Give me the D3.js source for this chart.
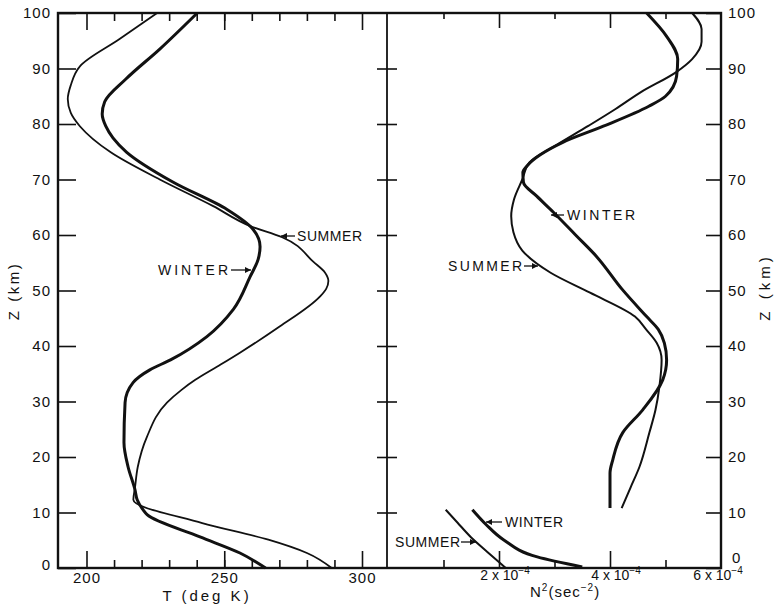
<!DOCTYPE html>
<html>
<head>
<meta charset="utf-8">
<script src="https://cdn.jsdelivr.net/npm/d3@7"></script>
<style>
  body { margin: 0; background: #fff; }
  text { font-family: "Liberation Sans", Arial, sans-serif; fill: #111; }
</style>
</head>
<body>
<svg id="chart" width="775" height="608"></svg>
<script>
// temperature profiles, [Z (km), T (deg K)]
let summerT = [[0,289],[2.7,280],[5.1,266],[8.1,242],[12.3,217],[14.5,217.6],[18.2,218.6],[23.6,221.9],[29.8,229.2],[32.1,234.5],[33.9,239.5],[36.3,247.5],[38.8,255.7],[43.5,270.1],[48.9,284.7],[50.3,287],[51.7,287.8],[53.2,286.6],[55.1,282.5],[59.6,271],[61.6,259.5],[65.2,246],[70,226.6],[74.9,208.8],[79.6,197.6],[82,194.3],[84.5,193.2],[87,194.3],[90.4,197.6],[95.3,212],[100,225.6]]
let winterT = [[0,265],[2.7,255.7],[5.6,241.2],[9.6,222],[10.5,220.5],[12.3,218.4],[14.1,217.6],[18.2,215.1],[22.6,213.6],[29.8,214],[33.4,216.9],[35.7,223],[37.5,230.5],[41.7,243.7],[46.6,253.3],[52.5,259.4],[55.6,262.3],[57.9,263],[61,260.5],[64.6,251],[69.5,231.5],[74.9,214.6],[77.5,209.6],[79.6,207],[81.8,205.7],[84,206.6],[88.1,214.3],[93.5,226.6],[100,240.2]]

// N^2 profiles, [Z (km), N^2 in units of 1e-4 sec^-2]
let summerN2Low = [[0,2.12],[2.9,1.79],[5.6,1.49],[8.2,1.25],[10.5,1.04]]
let winterN2Low = [[0.2,3.5],[2,2.69],[5.1,2.08],[7.8,1.77],[10.5,1.52]]
let summerN2 = [[10.8,4.21],[14.5,4.37],[18.2,4.53],[24.4,4.71],[28.5,4.82],[32.7,4.89],[37.5,4.93],[40.6,4.84],[43,4.65],[45.3,4.45],[49.6,3.64],[53.2,2.93],[57.2,2.42],[60.5,2.26],[63.4,2.22],[66.4,2.27],[70,2.42],[73.1,2.55],[76.3,3.05],[79.6,3.6],[82.7,4.1],[85.7,4.55],[89.4,5.2],[91.7,5.48],[94.8,5.65],[97.1,5.65],[100,5.48]]
let winterN2 = [[10.8,4.0],[17.1,4.0],[19.5,4.05],[24.4,4.23],[28.5,4.59],[33.9,4.95],[37.5,5.02],[40.5,4.98],[43,4.87],[45.3,4.66],[50.2,4.22],[56.1,3.76],[60,3.38],[64.1,2.98],[67,2.68],[69.5,2.44],[71.3,2.43],[72.4,2.5],[76.7,3.15],[79.6,3.88],[83.2,4.7],[85,5.0],[88.6,5.2],[91.7,5.22],[95.8,5.02],[100,4.66]]

// ticks
let zTicks = d3.range(0, 101, 10)
let tMinor = d3.range(210, 300, 10)
let tMajor = [200, 250, 300]
let nMinor = [1, 3, 5]
let nMajor = [2, 4]
let nLabels = [2, 4, 6]

let svg = d3.select('#chart')

let xLeft = 58, xMid = 387, xRight = 721, yTop = 13, yBottom = 568
let y = d3.scaleLinear().domain([0, 100]).range([yBottom, yTop])
let xT = d3.scaleLinear().domain([200, 300]).range([86.5, 362])
let xN = d3.scaleLinear().domain([0, 6]).range([388, xRight])

let drawAxis = (axis, tx, ty) => {
    let g = svg.append('g')
        .attr('transform', `translate(${tx},${ty})`)
        .call(axis)
    g.select('.domain').remove()
    g.attr('font-family', '"Liberation Sans", Arial, sans-serif')
        .attr('font-size', 15)
        .style('color', '#111')
    g.selectAll('line').attr('stroke-width', 1.6)
    g.selectAll('text').attr('letter-spacing', 1)
    return g
}

// Z axes
drawAxis(d3.axisLeft(y).tickValues(zTicks).tickSizeInner(-18).tickSizeOuter(0).tickPadding(7), xLeft, 0)
    .selectAll('.tick text').filter(d => d === 0).attr('dy', '0.1em')
drawAxis(d3.axisRight(y).tickValues(zTicks).tickSizeInner(-15).tickSizeOuter(0).tickPadding(7), xRight, 0)
    .selectAll('.tick text').filter(d => d === 0).attr('dy', '-0.35em').attr('x', 11)
drawAxis(d3.axisLeft(y).tickValues(d3.range(10, 100, 10)).tickSize(10).tickFormat(''), xMid, 0)
drawAxis(d3.axisRight(y).tickValues(d3.range(10, 100, 10)).tickSize(10).tickFormat(''), xMid, 0)

// T axis, bottom and top
drawAxis(d3.axisTop(xT).tickValues(tMinor).tickSize(8).tickFormat(''), 0, yBottom)
drawAxis(d3.axisBottom(xT).tickValues(tMajor).tickSizeInner(-17).tickSizeOuter(0).tickPadding(4), 0, yBottom)
drawAxis(d3.axisBottom(xT).tickValues(tMinor).tickSize(8).tickFormat(''), 0, yTop)
drawAxis(d3.axisBottom(xT).tickValues(tMajor).tickSize(17).tickFormat(''), 0, yTop)

// N^2 axis, bottom and top
drawAxis(d3.axisTop(xN).tickValues(nMinor).tickSize(8).tickFormat(''), 0, yBottom)
drawAxis(d3.axisTop(xN).tickValues(nMajor).tickSize(17).tickFormat(''), 0, yBottom)
drawAxis(d3.axisBottom(xN).tickValues(nMinor).tickSize(6).tickFormat(''), 0, yTop)
drawAxis(d3.axisBottom(xN).tickValues(nMajor).tickSize(15).tickFormat(''), 0, yTop)

svg.append('g').selectAll('text')
    .data(nLabels)
    .join('text')
    .attr('x', d => d === 6 ? xN(d) - 3 : xN(d) + 6)
    .attr('y', 580)
    .attr('text-anchor', 'middle')
    .attr('font-size', 14)
    .each(function (d) {
        let t = d3.select(this)
        t.append('tspan').text(d + ' x 10')
        t.append('tspan').attr('dy', -6).attr('font-size', 10).text('\u22124')
    })

// frame
let frame = svg.append('g').attr('stroke', '#111').attr('fill', 'none')
frame.append('rect')
    .attr('x', xLeft).attr('y', yTop)
    .attr('width', xRight - xLeft).attr('height', yBottom - yTop)
    .attr('stroke-width', 2.4)
frame.append('line')
    .attr('x1', xMid).attr('x2', xMid).attr('y1', yTop).attr('y2', yBottom)
    .attr('stroke-width', 1.8)

// profiles
let lineT = d3.line().x(d => xT(d[1])).y(d => y(d[0])).curve(d3.curveMonotoneY)
let lineN = d3.line().x(d => xN(d[1])).y(d => y(d[0])).curve(d3.curveMonotoneY)

let curves = [
    { data: summerT, line: lineT, w: 1.8 },
    { data: winterT, line: lineT, w: 3 },
    { data: summerN2Low, line: lineN, w: 2 },
    { data: winterN2Low, line: lineN, w: 3 },
    { data: summerN2, line: lineN, w: 2 },
    { data: winterN2, line: lineN, w: 3 }
]
svg.append('g').selectAll('path')
    .data(curves)
    .join('path')
    .attr('d', d => d.line(d.data))
    .attr('fill', 'none')
    .attr('stroke', '#111')
    .attr('stroke-width', d => d.w)
    .attr('stroke-linejoin', 'round')

// axis titles
svg.append('text')
    .attr('x', 207).attr('y', 601)
    .attr('text-anchor', 'middle')
    .attr('font-size', 15)
    .attr('letter-spacing', 3)
    .text('T (deg K)')

let n2 = svg.append('text')
    .attr('x', 530).attr('y', 597)
    .attr('font-size', 15)
    .attr('letter-spacing', 1)
n2.append('tspan').text('N')
n2.append('tspan').attr('dy', -6).attr('font-size', 10).text('2')
n2.append('tspan').attr('dy', 6).text('(sec')
n2.append('tspan').attr('dy', -6).attr('font-size', 10).text('\u22122')
n2.append('tspan').attr('dy', 6).text(')')

svg.append('text')
    .attr('transform', 'translate(19,291) rotate(-90)')
    .attr('text-anchor', 'middle')
    .attr('font-size', 15)
    .attr('letter-spacing', 2.5)
    .text('Z (km)')
svg.append('text')
    .attr('transform', 'translate(770,287) rotate(-90)')
    .attr('text-anchor', 'middle')
    .attr('font-size', 15)
    .attr('letter-spacing', 4)
    .text('Z (km)')

// curve labels with arrows
let notes = [
    { text: 'WINTER', x: 158, y: 270, w: 70, a1: 231, a2: 251 },
    { text: 'SUMMER', x: 297, y: 236, w: 65, a1: 295, a2: 281 },
    { text: 'WINTER', x: 567, y: 215, w: 68, a1: 564, a2: 551 },
    { text: 'SUMMER', x: 448, y: 266, w: 74, a1: 524, a2: 538 },
    { text: 'SUMMER', x: 395, y: 542, w: 65, a1: 461, a2: 476 },
    { text: 'WINTER', x: 505, y: 522, w: 58, a1: 502, a2: 486 }
]
let note = svg.append('g').selectAll('g')
    .data(notes)
    .join('g')
note.append('text')
    .attr('x', d => d.x).attr('y', d => d.y)
    .attr('dy', '0.36em')
    .attr('font-size', 14)
    .attr('textLength', d => d.w)
    .attr('lengthAdjust', 'spacing')
    .text(d => d.text)
note.append('line')
    .attr('x1', d => d.a1).attr('x2', d => d.a2)
    .attr('y1', d => d.y).attr('y2', d => d.y)
    .attr('stroke', '#111').attr('stroke-width', 1.3)
note.append('path')
    .attr('d', d => {
        let s = d.a2 > d.a1 ? 1 : -1
        return `M${d.a2},${d.y}L${d.a2 - s * 6},${d.y - 3}L${d.a2 - s * 6},${d.y + 3}Z`
    })
    .attr('fill', '#111')
</script>
</body>
</html>
